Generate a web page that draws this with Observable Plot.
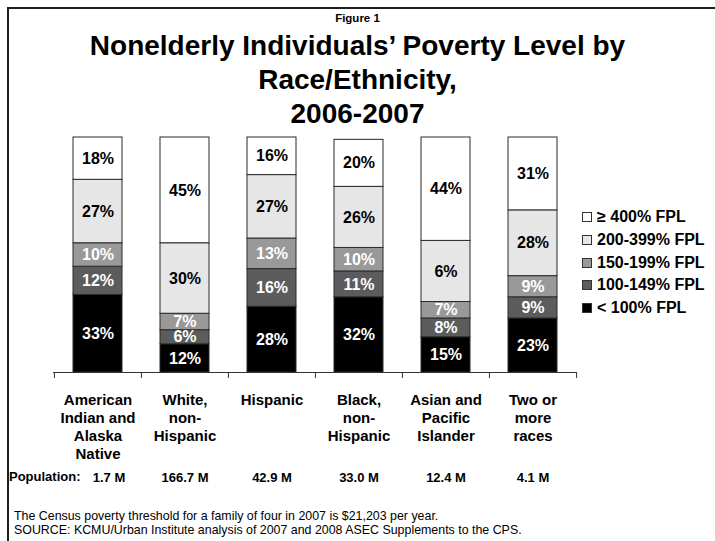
<!DOCTYPE html>
<html>
<head>
<meta charset="utf-8">
<script src="https://cdn.jsdelivr.net/npm/d3@7"></script>
<script src="https://cdn.jsdelivr.net/npm/@observablehq/plot@0.6"></script>
<style>
  html, body { margin: 0; padding: 0; background: #fff; }
  body { font-family: Arial, "Liberation Sans", sans-serif; color: #000; }
  #root { position: relative; width: 715px; height: 541px; overflow: hidden; background: #fff; }
  #frame { position: absolute; left: 7px; top: 7px; width: 720px; height: 545px;
           border-left: 2px solid #1e1e1e; border-top: 2px solid #1e1e1e; box-sizing: border-box; }
  #fig { position: absolute; left: 0; width: 715px; top: 11px; text-align: center;
         font-size: 11.5px; line-height: 14px; font-weight: bold; }
  #title { position: absolute; left: 0; width: 715px; top: 29px; text-align: center;
           font-size: 28px; line-height: 34px; font-weight: bold; }
  #chart { position: absolute; left: 0; top: 125px; }
  #legend { position: absolute; left: 582px; top: 206px; font-size: 16px; font-weight: bold; }
  #legend .row { display: flex; align-items: center; height: 22.7px; white-space: nowrap; }
  #legend .sw { width: 8px; height: 8px; border: 1px solid #333; margin-right: 5px; flex: none; }
  #popLabel { position: absolute; left: 9px; top: 469px; font-size: 13px; font-weight: bold; line-height: 16px; }
  #footer { position: absolute; left: 14px; top: 510px; font-size: 12.4px; line-height: 13.5px; }
</style>
</head>
<body>
<div id="root">
  <div id="frame"></div>
  <div id="fig">Figure 1</div>
  <div id="title">Nonelderly Individuals’ Poverty Level by<br>Race/Ethnicity,<br>2006-2007</div>
  <div id="chart"></div>
  <div id="legend"></div>
  <div id="popLabel">Population:</div>
  <div id="footer">The Census poverty threshold for a family of four in 2007 is $21,203 per year.<br>SOURCE: KCMU/Urban Institute analysis of 2007 and 2008 ASEC Supplements to the CPS.</div>
</div>
<script>
// ---- data ----
const categories = ["American Indian and Alaska Native", "White, non-Hispanic", "Hispanic",
                    "Black, non-Hispanic", "Asian and Pacific Islander", "Two or more races"];
const categoryLabels = ["American\nIndian and\nAlaska\nNative", "White,\nnon-\nHispanic", "Hispanic",
                        "Black,\nnon-\nHispanic", "Asian and\nPacific\nIslander", "Two or\nmore\nraces"];
const population = ["1.7 M", "166.7 M", "42.9 M", "33.0 M", "12.4 M", "4.1 M"];
const seriesNames = ["< 100% FPL", "100-149% FPL", "150-199% FPL", "200-399% FPL", "≥ 400% FPL"];
const below100 = [33, 12, 28, 32, 15, 23];
const fpl100to149 = [12, 6, 16, 11, 8, 9];
const fpl150to199 = [10, 7, 13, 10, 7, 9];
const fpl200to399 = [27, 30, 27, 26, 26, 28];
const fpl400plus = [18, 45, 16, 20, 44, 31];
// label as printed in the original figure (Asian 200-399% is printed as "6%")
const printedLabelOverrides = {"Asian and Pacific Islander|200-399% FPL": "6%"};
const seriesColors = ["#000000", "#5c5c5c", "#999999", "#e6e6e6", "#ffffff"];
const darkSeries = ["< 100% FPL", "100-149% FPL", "150-199% FPL"];

const seriesValues = [below100, fpl100to149, fpl150to199, fpl200to399, fpl400plus];
const data = [];
categories.forEach((c, i) => {
  seriesNames.forEach((s, j) => {
    const v = seriesValues[j][i];
    const key = c + "|" + s;
    data.push({category: c, series: s, value: v,
               label: printedLabelOverrides[key] ?? (v + "%")});
  });
});

const W = 715, H = 370, mL = 53, mR = 139, mT = 12, mB = 123;
const step = (W - mL - mR) / categories.length;
const tickLen = 6 / ((H - mT - mB) / 100);

const font = {fontFamily: "Arial, 'Liberation Sans', sans-serif", fontWeight: "bold"};

const chart = Plot.plot({
  width: W, height: H,
  marginLeft: mL, marginRight: mR, marginTop: mT, marginBottom: mB,
  style: {fontFamily: "Arial, 'Liberation Sans', sans-serif", background: "transparent", overflow: "visible"},
  x: {domain: categories, padding: 0, axis: null},
  y: {domain: [0, 100], axis: null},
  color: {domain: seriesNames, range: seriesColors},
  marks: [
    Plot.barY(data, {x: "category", y: "value", z: "series", fill: "series", order: null,
                     stroke: "#2a2a2a", strokeWidth: 1, insetLeft: 19, insetRight: 19}),
    Plot.text(data, Plot.stackY({x: "category", y: "value", z: "series", order: null,
      text: d => darkSeries.includes(d.series) ? d.label : null,
      fill: "white", fontSize: 16, ...font})),
    Plot.text(data, Plot.stackY({x: "category", y: "value", z: "series", order: null,
      text: d => darkSeries.includes(d.series) ? null : d.label,
      fill: "black", fontSize: 16, ...font})),
    Plot.ruleY([0], {stroke: "#333", strokeWidth: 1}),
    Plot.ruleX(categories, {x: d => d, y1: 0, y2: -tickLen, dx: -step / 2, stroke: "#333"}),
    Plot.ruleX(categories.slice(-1), {x: d => d, y1: 0, y2: -tickLen, dx: step / 2, stroke: "#333"}),
    Plot.text(categories, {x: d => d, y: 0, text: (d, i) => categoryLabels[i],
      lineAnchor: "top", dy: 20, lineHeight: 1.2, fontSize: 15, fill: "black", ...font}),
    // first population value sits just after the "Population:" prefix
    Plot.text(categories.slice(0, 1), {x: d => d, y: 0, text: (d, i) => population[i],
      lineAnchor: "middle", dy: 105, dx: 11, fontSize: 13, fill: "black", ...font}),
    Plot.text(categories.slice(1), {x: d => d, y: 0, text: (d, i) => population[i + 1],
      lineAnchor: "middle", dy: 105, fontSize: 13, fill: "black", ...font})
  ]
});
document.getElementById("chart").appendChild(chart);

// legend (top to bottom: highest FPL first)
const legend = document.getElementById("legend");
seriesNames.slice().reverse().forEach(s => {
  const row = document.createElement("div");
  row.className = "row";
  const sw = document.createElement("span");
  sw.className = "sw";
  sw.style.background = seriesColors[seriesNames.indexOf(s)];
  const t = document.createElement("span");
  t.textContent = s;
  row.appendChild(sw); row.appendChild(t);
  legend.appendChild(row);
});
</script>
</body>
</html>
